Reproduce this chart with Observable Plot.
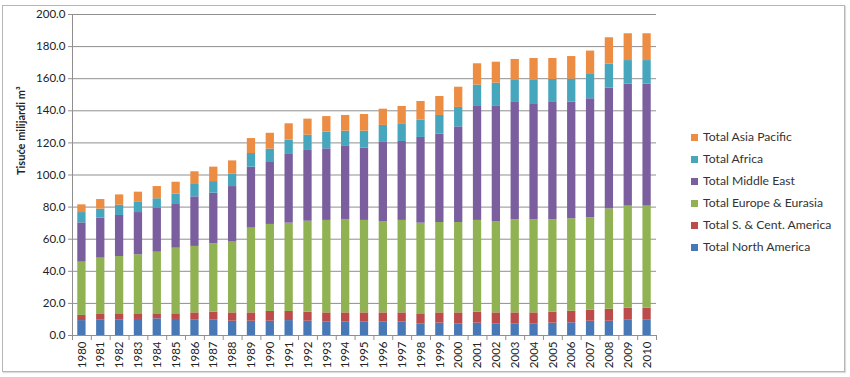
<!DOCTYPE html>
<html>
<head>
<meta charset="utf-8">
<script src="https://cdn.jsdelivr.net/npm/d3@7"></script>
<script src="https://cdn.jsdelivr.net/npm/@observablehq/plot@0.6"></script>
<style>
  html, body { margin: 0; padding: 0; background: #fff; }
  #wrap { position: relative; width: 850px; height: 377px; font-family: Lato, "Liberation Sans", sans-serif; }
  #border { position: absolute; left: 2px; top: 5px; width: 841px; height: 365px; border: 1px solid #b5b5b5; box-shadow: 1px 1px 1px #ddd; pointer-events: none; }
  #legend { position: absolute; left: 691px; top: 126px; font-size: 12.2px; color: #333; }
  #legend .row { height: 22px; line-height: 14px; display: flex; align-items: center; }
  #legend .sw { width: 7px; height: 7px; margin-right: 5px; }
  svg { position: absolute; left: 0; top: 0; }
</style>
</head>
<body>
<div id="wrap"><div id="border"></div><div id="legend"></div></div>
<script>
const years = ["1980","1981","1982","1983","1984","1985","1986","1987","1988","1989","1990","1991","1992","1993","1994","1995","1996","1997","1998","1999","2000","2001","2002","2003","2004","2005","2006","2007","2008","2009","2010"];
const seriesNames = ["Total North America","Total S. & Cent. America","Total Europe & Eurasia","Total Middle East","Total Africa","Total Asia Pacific"];
const seriesColors = ["#4879B6","#BC4B4B","#90B252","#7A5E9E","#45A6BE","#EC8D43"];
const northAmerica = [9.3,9.8,9.8,10.0,10.4,10.0,9.8,9.8,8.9,8.9,8.9,9.3,8.9,8.3,8.3,8.3,8.3,8.3,7.3,7.7,7.3,7.7,7.3,7.3,7.3,7.7,7.9,8.9,8.9,9.8,9.8];
const southCentAmerica = [3.2,3.3,3.7,3.5,3.1,3.5,4.3,4.7,5.2,5.2,6.1,5.7,5.6,5.8,5.8,5.8,5.8,5.8,6.2,6.4,6.8,6.8,6.8,6.8,6.8,6.8,7.3,6.9,7.5,7.2,7.2];
const europeEurasia = [33.2,35.1,35.7,36.8,38.4,40.9,41.4,42.6,44.1,52.8,54.2,55.0,56.7,57.6,58.2,57.6,56.9,57.6,56.5,56.3,56.3,57.2,56.9,58.0,58.0,57.6,57.5,57.5,62.5,63.6,63.6];
const middleEast = [24.5,24.9,25.6,26.3,27.6,27.2,30.9,31.6,34.6,38.0,38.6,42.8,44.1,44.6,45.9,45.0,49.3,49.2,53.4,55.0,59.6,71.0,72.1,73.1,72.3,73.1,72.7,74.2,75.2,76.0,76.0];
const africa = [6.4,5.6,6.4,6.7,5.7,6.5,7.7,7.2,7.7,8.5,8.3,8.9,9.5,10.4,9.1,10.6,10.6,11.0,10.8,11.7,12.1,13.3,14.1,13.7,14.5,14.3,14.3,15.6,15.0,14.7,14.7];
const asiaPacific = [4.8,6.0,6.4,6.0,7.6,7.4,7.9,9.0,8.3,9.3,9.9,10.2,10.0,9.7,9.8,10.4,10.1,10.8,11.6,11.8,12.6,13.3,13.1,13.1,13.7,13.1,14.1,14.1,16.4,16.7,16.7];
const yTicks = [0,20,40,60,80,100,120,140,160,180,200];
const yLabel = "Tisuće milijardi m³";

const seriesValues = [northAmerica, southCentAmerica, europeEurasia, middleEast, africa, asiaPacific];
const data = [];
years.forEach((yr, i) => {
  seriesNames.forEach((s, j) => data.push({year: yr, series: s, value: seriesValues[j][i]}));
});

const W = 850, H = 377, mL = 72, mR = 194, mT = 14, mB = 42;
const step = (W - mL - mR) / years.length;

const chart = Plot.plot({
  width: W, height: H,
  marginLeft: mL, marginRight: mR, marginTop: mT, marginBottom: mB,
  style: {fontFamily: "Lato, 'Liberation Sans', sans-serif", fontSize: "11.5px", color: "#222", background: "transparent"},
  x: {type: "band", domain: years, paddingInner: 0.56, paddingOuter: 0.28, round: false},
  y: {domain: [0, 200]},
  color: {domain: seriesNames, range: seriesColors},
  marks: [
    Plot.gridY(yTicks, {stroke: "#8f8f8f", strokeOpacity: 1}),
    Plot.barY(data, {x: "year", y: "value", fill: "series", order: seriesNames}),
    Plot.ruleY([0], {stroke: "#8f8f8f"}),
    Plot.frame({anchor: "left", stroke: "#8f8f8f"}),
    Plot.ruleX(years, {x: d => d, dx: -step / 2, y1: 0, y2: 0, insetBottom: -5, stroke: "#8f8f8f"}),
    Plot.ruleX([years[years.length - 1]], {x: d => d, dx: step / 2, y1: 0, y2: 0, insetBottom: -5, stroke: "#8f8f8f"}),
    Plot.axisY(yTicks, {tickFormat: d => d.toFixed(1), tickSize: 4, tickPadding: 3, label: null, stroke: "#8f8f8f"}),
    Plot.axisX({tickRotate: -90, tickSize: 0, tickPadding: 6, label: null}),
    Plot.text([yLabel], {frameAnchor: "left", rotate: -90, dx: -51, fontWeight: "bold", fontSize: 11, fill: "#222"})
  ]
});
document.getElementById("wrap").prepend(chart);

const legend = document.getElementById("legend");
for (let j = seriesNames.length - 1; j >= 0; j--) {
  const row = document.createElement("div");
  row.className = "row";
  const sw = document.createElement("div");
  sw.className = "sw";
  sw.style.background = seriesColors[j];
  const t = document.createElement("span");
  t.textContent = seriesNames[j];
  row.append(sw, t);
  legend.append(row);
}
</script>
</body>
</html>
